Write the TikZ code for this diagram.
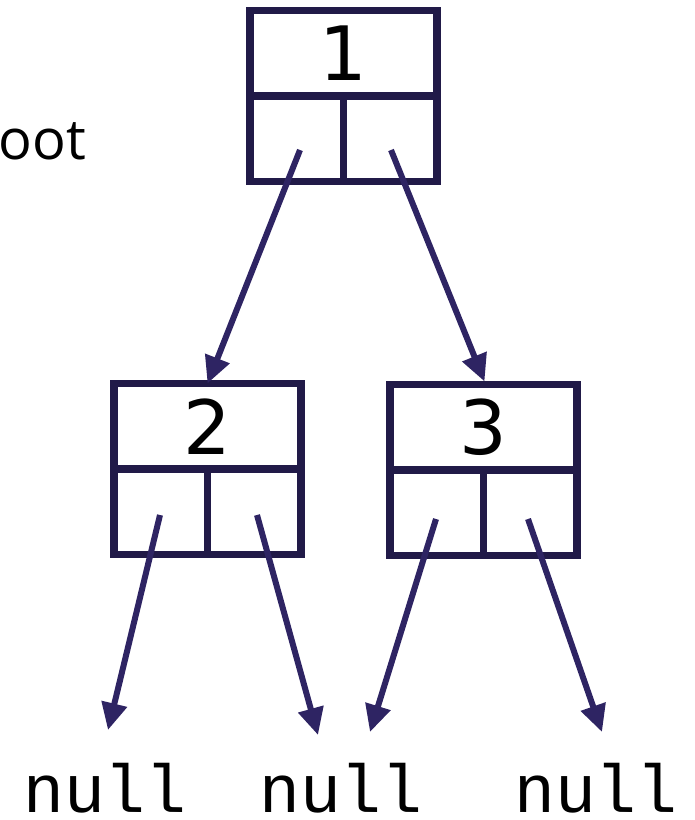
\documentclass[tikz,border=0pt]{standalone}
\usepackage{fontspec}
\usetikzlibrary{arrows.meta,calc}
\newfontfamily\digitfont{DejaVu Sans}
\newfontfamily\labelfont{Open Sans}
\newfontfamily\codefont{Liberation Mono}
\definecolor{boxc}{HTML}{211A48}
\definecolor{arrc}{HTML}{2E2463}
\tikzset{
  cell/.style={draw=boxc, line width=7.5pt, rectangle, inner sep=0pt, outer sep=0pt,
               minimum width=187pt, minimum height=171pt},
  divider/.style={draw=boxc, line width=7.5pt},
  keytext/.style={font=\digitfont\fontsize{75}{80}\selectfont, inner sep=0pt},
  nulltext/.style={font=\codefont\fontsize{68}{70}\selectfont, inner sep=0pt,
                   anchor=base, text depth=0pt},
  ptr/.style={draw=arrc, line width=6pt, -{Triangle[length=27pt,width=25pt]}},
}
\begin{document}
\begin{tikzpicture}[x=1pt,y=-1pt]
  \useasboundingbox (0,0) rectangle (695,820);

  % list nodes: value field on top, two pointer fields below
  \node[cell] (n1) at (343.5,96) {};
  \node[cell] (n2) at (207.5,469) {};
  \node[cell] (n3) at (483.5,470) {};
  \foreach \n in {n1,n2,n3} {
    \draw[divider] (\n.west) -- (\n.east);
    \draw[divider] (\n.center) -- (\n.south);
  }
  \node[keytext] (k1) at ($(n1.north)!0.5!(n1.center)$) {1};
  \node[keytext] (k2) at ($(n2.north)!0.5!(n2.center)$) {2};
  \node[keytext] (k3) at ($(n3.north)!0.5!(n3.center)$) {3};

  % label at the left edge
  \node[font=\labelfont\fontsize{56}{60}\selectfont, inner sep=0pt, anchor=base east] (root) at (86,159) {oot};

  % null terminators
  \node[nulltext] (z1) at (105,812) {null};
  \node[nulltext] (z2) at (341,812) {null};
  \node[nulltext] (z3) at (596,812) {null};

  % pointer origins inside the fields
  \coordinate (p1l) at (300,150);
  \coordinate (p1r) at (391,150);
  \coordinate (p2l) at (160,515);
  \coordinate (p2r) at (257,515);
  \coordinate (p3l) at (436,519);
  \coordinate (p3r) at (528,519);

  % arrow tips above the null labels
  \coordinate (e1) at ($(z1.base)+(3,-82)$);
  \coordinate (e2) at ($(z2.base)+(-23,-77)$);
  \coordinate (e3) at ($(z2.base)+(29,-80)$);
  \coordinate (e4) at ($(z3.base)+(6,-80)$);

  \draw[ptr] (p1l) -- (n2.north);
  \draw[ptr] (p1r) -- ($(n3.north)+(1,-3)$);
  \draw[ptr] (p2l) -- (e1);
  \draw[ptr] (p2r) -- (e2);
  \draw[ptr] (p3l) -- (e3);
  \draw[ptr] (p3r) -- (e4);
\end{tikzpicture}
\end{document}
